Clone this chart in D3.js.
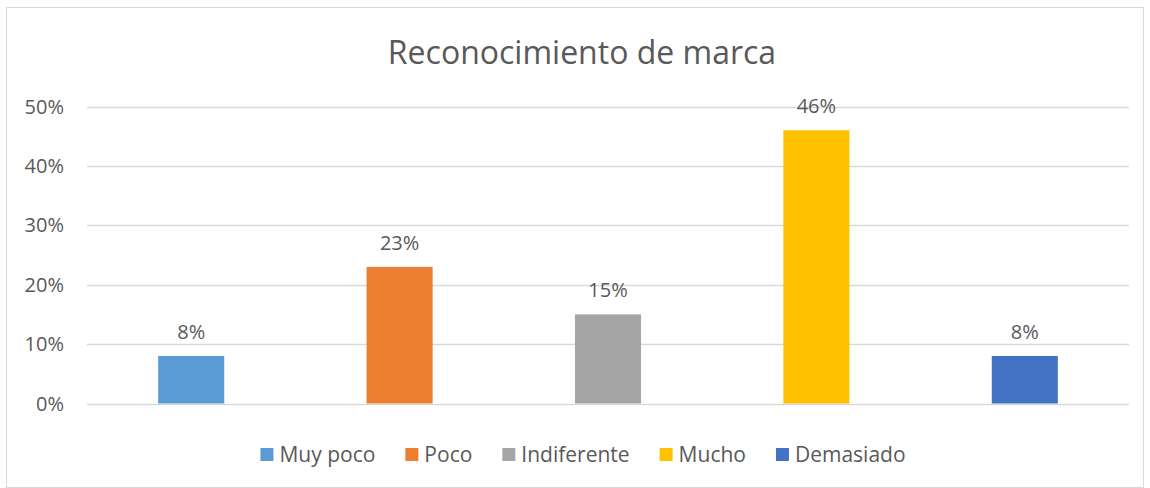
<!DOCTYPE html>
<html>
<head>
<meta charset="utf-8">
<script src="https://cdn.jsdelivr.net/npm/d3@7"></script>
<style>
	body { margin: 0; background: #fff; }
	svg text { font-family: "Open Sans", "Liberation Sans", sans-serif; fill: #595959; }
</style>
</head>
<body>
<svg id="chart" width="1150" height="488"></svg>
<script>
const categories = ['Muy poco', 'Poco', 'Indiferente', 'Mucho', 'Demasiado'];
const values = [0.08, 0.23, 0.15, 0.46, 0.08];
const colors = ['#5B9BD5', '#ED7D31', '#A5A5A5', '#FFC000', '#4472C4'];
const yTicks = [0, 0.1, 0.2, 0.3, 0.4, 0.5];
const title = 'Reconocimiento de marca';

const svg = d3.select('#chart');

// Chart frame
svg.append('rect')
	.attr('x', 6.5).attr('y', 7.5)
	.attr('width', 1150 - 13).attr('height', 488 - 8)
	.attr('fill', '#fff')
	.attr('stroke', '#D9D9D9');

const plot = { left: 87, right: 1129, top: 106.5, bottom: 403.5 };

const x = d3.scaleBand()
	.domain(categories)
	.range([plot.left, plot.right])
	.paddingInner(0.683)
	.paddingOuter(0.683 / 2);

const y = d3.scaleLinear()
	.domain([0, 0.5])
	.range([plot.bottom, plot.top]);

// Gridlines
svg.append('g')
	.selectAll('line')
	.data(yTicks)
	.join('line')
		.attr('x1', plot.left).attr('x2', plot.right)
		.attr('y1', d => Math.round(y(d)) + 0.5)
		.attr('y2', d => Math.round(y(d)) + 0.5)
		.attr('stroke', '#D9D9D9')
		.attr('stroke-width', 1.3);

// Y axis labels
svg.append('g')
	.selectAll('text')
	.data(yTicks)
	.join('text')
		.attr('x', 64)
		.attr('y', d => y(d))
		.attr('dy', '0.35em')
		.attr('text-anchor', 'end')
		.style('font-size', '20px')
		.text(d3.format('.0%'));

// Bars
svg.append('g')
	.selectAll('rect')
	.data(values)
	.join('rect')
		.attr('x', (d, i) => x(categories[i]))
		.attr('width', x.bandwidth())
		.attr('y', d => y(d))
		.attr('height', d => y(0) - y(d))
		.attr('fill', (d, i) => colors[i]);

// Data labels
svg.append('g')
	.selectAll('text')
	.data(values)
	.join('text')
		.attr('x', (d, i) => x(categories[i]) + x.bandwidth() / 2)
		.attr('y', d => y(d) - 17)
		.attr('text-anchor', 'middle')
		.style('font-size', '20px')
		.text(d3.format('.0%'));

// Title
svg.append('text')
	.attr('x', 582)
	.attr('y', 64)
	.attr('text-anchor', 'middle')
	.style('font-size', '32px')
	.text(title);

// Legend
const legend = svg.append('g');
const items = legend.selectAll('g')
	.data(categories)
	.join('g');
items.append('rect')
	.attr('width', 13).attr('height', 13)
	.attr('y', -7)
	.attr('fill', (d, i) => colors[i]);
items.append('text')
	.attr('x', 19)
	.attr('dy', '0.35em')
	.style('font-size', '21px')
	.text(d => d);

let cx = 0;
const gap = 30;
items.each(function() {
	const w = 19 + this.querySelector('text').getComputedTextLength();
	d3.select(this).attr('transform', `translate(${cx},0)`);
	cx += w + gap;
});
const total = cx - gap;
legend.attr('transform', `translate(${(255 + 911) / 2 - total / 2},455)`);
</script>
</body>
</html>
